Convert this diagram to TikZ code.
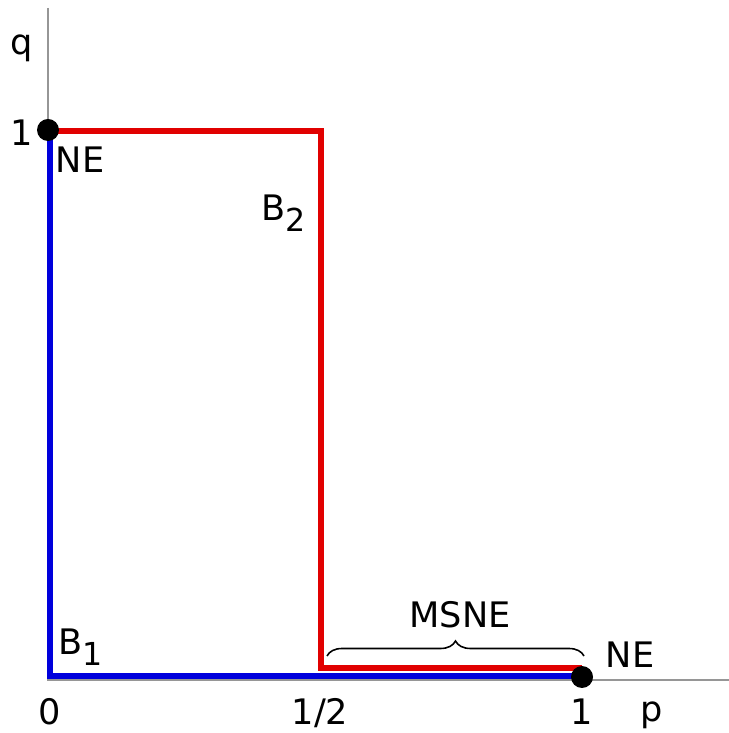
\documentclass[tikz,border=0pt]{standalone}
\usepackage{fontspec}
\setmainfont{DejaVu Sans}
\usetikzlibrary{decorations.pathreplacing, calc}
\definecolor{axisgray}{RGB}{150,150,150}
\definecolor{bestblue}{RGB}{0,0,220}
\definecolor{bestred}{RGB}{225,0,0}
\newcommand{\lowsub}[1]{\raisebox{-0.3em}{\fontsize{18}{18}\selectfont #1}}

\begin{document}
\begin{tikzpicture}[x=0.02cm, y=0.02cm,
    lbl/.style={font=\fontsize{20}{22}\selectfont, inner sep=0pt},
    eqdot/.style={circle, fill=black, minimum size=0.44cm, inner sep=0pt}]
  \useasboundingbox (0,0) rectangle (729,733);

  % Axes
  \coordinate (origin) at (48,53);
  \coordinate (ytop) at (48,725);
  \coordinate (xend) at (729,53);
  \draw[axisgray, line width=1.2pt] (ytop) -- (origin) -- (xend);

  % Corner points of the best responses
  \coordinate (b1top) at (50,603);
  \coordinate (b1low) at (50,57);
  \coordinate (b1end) at (582,57);
  \coordinate (b2left) at (48,602);
  \coordinate (b2top) at (321,602);
  \coordinate (b2low) at (321,65);
  \coordinate (b2end) at (582,65);

  % B_1 in blue, B_2 in red
  \draw[bestblue, line width=3.4pt] (b1top) -- (b1low) -- (b1end);
  \draw[bestred, line width=3pt] (b2left) -- (b2top) -- (b2low) -- (b2end);

  % Pure equilibria
  \node[eqdot] (ne1) at (48,603) {};
  \node[eqdot] (ne2) at (582,56) {};

  % Mixed equilibria brace
  \coordinate (brl) at (327,77);
  \coordinate (brr) at (584,77);
  \draw[decorate, decoration={brace, amplitude=0.3cm}, line width=0.9pt] (brl) -- (brr);

  % Labels
  \node[lbl] (qlab) at (22,685) {q};
  \node[lbl] (qone) at (22,600) {1};
  \node[lbl] (nelab1) at (80,573) {NE};
  \node[lbl] (b2lab) at (284,520) {B\lowsub{2}};
  \node[lbl] (b1lab) at (81,86) {B\lowsub{1}};
  \node[lbl] (mslab) at (460,118) {MSNE};
  \node[lbl] (nelab2) at (630,78) {NE};
  \node[lbl] (pzero) at (50,21) {0};
  \node[lbl] (phalf) at (320,20) {1/2};
  \node[lbl] (pone) at (582,21) {1};
  \node[lbl] (plab) at (652,18) {p};
\end{tikzpicture}
\end{document}
